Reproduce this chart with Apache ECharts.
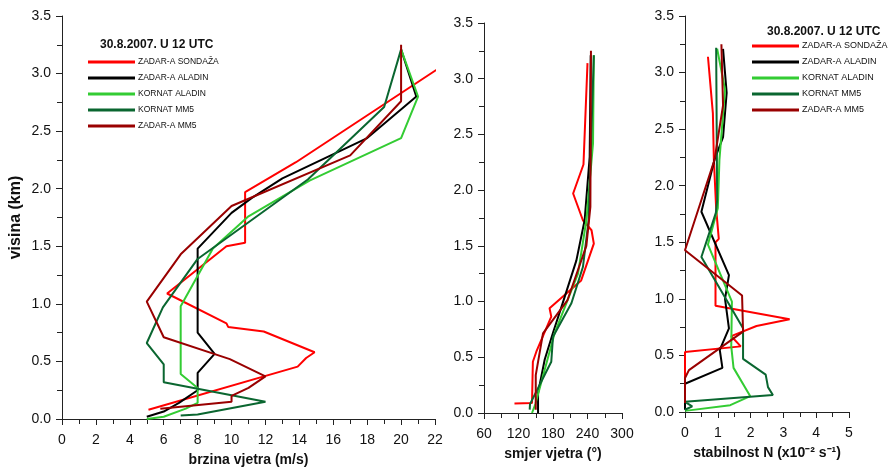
<!DOCTYPE html>
<html>
<head>
<meta charset="utf-8">
<script src="https://cdn.jsdelivr.net/npm/echarts@6/dist/echarts.min.js"></script>
<style>
  html, body { margin: 0; padding: 0; background: #fff; }
  #main { width: 896px; height: 472px; }
</style>
</head>
<body>
<div id="main"></div>
<script>
// imena serija (legenda)
var names = ['ZADAR-A SONDAŽA', 'ZADAR-A ALADIN', 'KORNAT ALADIN', 'KORNAT MM5', 'ZADAR-A MM5'];
var colors = ['#ff0000', '#000000', '#33cc33', '#0a6630', '#990000'];
var title = '30.8.2007. U 12 UTC';

// brzina vjetra (m/s), visina (km)
var brzinaSondaza = [[5.1,0.08],[13.9,0.455],[14.4,0.53],[14.9,0.58],[11.9,0.76],[9.8,0.80],[9.7,0.83],[6.2,1.09],[9.7,1.50],[10.8,1.53],[10.8,1.97],[13.8,2.23],[23.2,3.14]];
var brzinaZadarAladin = [[5.0,0.02],[6.0,0.065],[6.9,0.14],[8.0,0.25],[8.0,0.40],[9.0,0.565],[8.0,0.75],[8.0,1.48],[10.0,1.79],[11.2,1.92],[13.0,2.09],[18.0,2.44],[20.9,2.80],[20.0,3.21]];
var brzinaKornatAladin = [[5.0,0.0],[6.0,0.02],[7.3,0.09],[8.0,0.14],[8.0,0.27],[7.0,0.39],[7.0,0.98],[8.9,1.48],[11.0,1.76],[14.6,2.07],[20.0,2.44],[21.0,2.80],[20.0,3.21]];
var brzinaKornatMM5 = [[7.0,0.03],[8.0,0.04],[12.0,0.15],[6.0,0.32],[6.0,0.475],[5.0,0.66],[5.95,0.97],[8.0,1.39],[14.5,2.08],[19.0,2.71],[20.0,3.21]];
var brzinaZadarMM5 = [[5.8,0.09],[10.0,0.15],[10.0,0.20],[11.0,0.27],[12.0,0.37],[9.9,0.52],[6.0,0.71],[5.0,1.02],[7.0,1.43],[10.0,1.85],[17.0,2.29],[20.0,2.76],[20.0,3.25]];

// smjer vjetra (stupnjevi)
var smjerSondaza = [[113,0.085],[143.5,0.09],[145,0.46],[151,0.55],[177,0.865],[174,0.94],[229,1.19],[251,1.52],[247,1.64],[232,1.73],[215,1.97],[233,2.23],[240,3.14]];
var smjerZadarAladin = [[154,0],[154,0.18],[165.6,0.48],[180,0.72],[194.6,0.95],[220.7,1.37],[235,1.73],[243.8,2.30],[245.6,3.21]];
var smjerKornatAladin = [[143.5,0],[149.4,0.08],[183,0.72],[223.5,1.25],[238,1.73],[249.6,2.42],[251,3.21]];
var smjerKornatMM5 = [[139.5,0.03],[140,0.08],[177,0.46],[180,0.685],[212,0.985],[232,1.31],[242,1.73],[251,3.21]];
var smjerZadarMM5 = [[150,0.03],[150,0.34],[162.6,0.715],[205,1.01],[238,1.5],[245,1.85],[246,3.25]];

// stabilnost N (x10^-2 s^-1)
var stabSondaza = [[0,0.08],[0,0.53],[1.70,0.58],[1.41,0.67],[2.18,0.76],[3.19,0.82],[0.93,0.94],[0.93,1.50],[1.03,1.53],[0.95,1.80],[0.88,2.23],[0.85,2.64],[0.70,3.14]];
var stabZadarAladin = [[0,0.02],[0,0.25],[1.14,0.39],[1.06,0.55],[1.34,0.74],[1.22,1.0],[1.34,1.21],[0.5,1.77],[0.9,2.23],[1.16,2.43],[1.27,2.82],[1.16,3.21]];
var stabKornatAladin = [[0,0.01],[1.38,0.06],[1.99,0.14],[1.48,0.39],[1.41,0.58],[1.43,0.975],[0.70,1.48],[1.0,1.80],[1.05,2.23],[1.22,2.85],[0.98,3.21]];
var stabKornatMM5 = [[0,0.02],[0.22,0.05],[0,0.09],[2.68,0.15],[2.53,0.22],[2.46,0.33],[1.77,0.47],[1.77,0.74],[0.5,1.37],[0.94,1.76],[0.98,1.87],[0.95,3.22]];
var stabZadarMM5 = [[0,0.08],[0,0.30],[0.12,0.37],[1.77,0.71],[1.74,1.03],[0,1.43],[0.9,2.23],[1.16,2.71],[1.11,3.25]];

var panels = [
    [brzinaSondaza, brzinaZadarAladin, brzinaKornatAladin, brzinaKornatMM5, brzinaZadarMM5],
    [smjerSondaza, smjerZadarAladin, smjerKornatAladin, smjerKornatMM5, smjerZadarMM5],
    [stabSondaza, stabZadarAladin, stabKornatAladin, stabKornatMM5, stabZadarMM5]
];

var axisCol = '#222';
var font = '"Liberation Sans", Arial, sans-serif';

function xAx(i, min, max, interval, name) {
    return {
        type: 'value', gridIndex: i, min: min, max: max, interval: interval,
        name: name, nameLocation: 'middle', nameGap: 34,
        nameTextStyle: { fontFamily: font, fontWeight: 'bold', fontSize: 14, color: '#111' },
        axisLine: { lineStyle: { color: axisCol, width: 1 } },
        axisTick: { length: 6, lineStyle: { color: axisCol } },
        minorTick: { show: true, splitNumber: 2, length: 5, lineStyle: { color: axisCol } },
        axisLabel: { margin: 14, fontFamily: font, fontSize: 14, color: '#111' },
        splitLine: { show: false }
    };
}
function yAx(i, name) {
    return {
        type: 'value', gridIndex: i, min: 0, max: 3.5, interval: 0.5,
        name: name, nameLocation: 'middle', nameGap: 38,
        nameTextStyle: { fontFamily: font, fontWeight: 'bold', fontSize: 16, color: '#111' },
        axisLine: { show: true, lineStyle: { color: axisCol, width: 1 } },
        axisTick: { length: 6, lineStyle: { color: axisCol } },
        minorTick: { show: true, splitNumber: 2, length: 5, lineStyle: { color: axisCol } },
        axisLabel: { margin: 11, fontFamily: font, fontSize: 14, color: '#111',
            formatter: function (v) { return v.toFixed(1); } },
        splitLine: { show: false }
    };
}

var series = [];
for (var p = 0; p < 3; p++) {
    for (var s = 0; s < 5; s++) {
        series.push({
            name: names[s], type: 'line', xAxisIndex: p, yAxisIndex: p,
            data: panels[p][s], showSymbol: false, symbol: 'none',
            clip: false, animation: false,
            lineStyle: { color: colors[s], width: 2 },
            itemStyle: { color: colors[s] }
        });
    }
}

function legend(left, top, fs) {
    return {
        orient: 'vertical', left: left, top: top, data: names, padding: 0,
        icon: 'rect', itemWidth: 47, itemHeight: 3, itemGap: 4,
        selectedMode: false,
        textStyle: { fontFamily: font, fontSize: fs, color: '#111', lineHeight: 12, padding: [0, 0, 0, -2] }
    };
}

var myChart = echarts.init(document.getElementById('main'));
var option = {
    backgroundColor: '#fff',
    animation: false,
    title: [
        { text: title, left: 100, top: 39, padding: 0, textStyle: { fontFamily: font, fontWeight: 'bold', fontSize: 12, color: '#111' } },
        { text: title, left: 767, top: 26, padding: 0, textStyle: { fontFamily: font, fontWeight: 'bold', fontSize: 12, color: '#111' } }
    ],
    legend: [legend(88, 56, 8.5), legend(752, 40, 9)],
    grid: [
        { left: 62, top: 16, width: 373, height: 403 },
        { left: 484, top: 23, width: 138, height: 390 },
        { left: 685, top: 16, width: 164, height: 396 }
    ],
    xAxis: [
        xAx(0, 0, 22, 2, 'brzina vjetra (m/s)'),
        xAx(1, 60, 300, 60, 'smjer vjetra (°)'),
        xAx(2, 0, 5, 1, 'stabilnost N (x10⁻² s⁻¹)')
    ],
    yAxis: [yAx(0, 'visina (km)'), yAx(1, ''), yAx(2, '')],
    series: series
};
myChart.setOption(option);
</script>
</body>
</html>
